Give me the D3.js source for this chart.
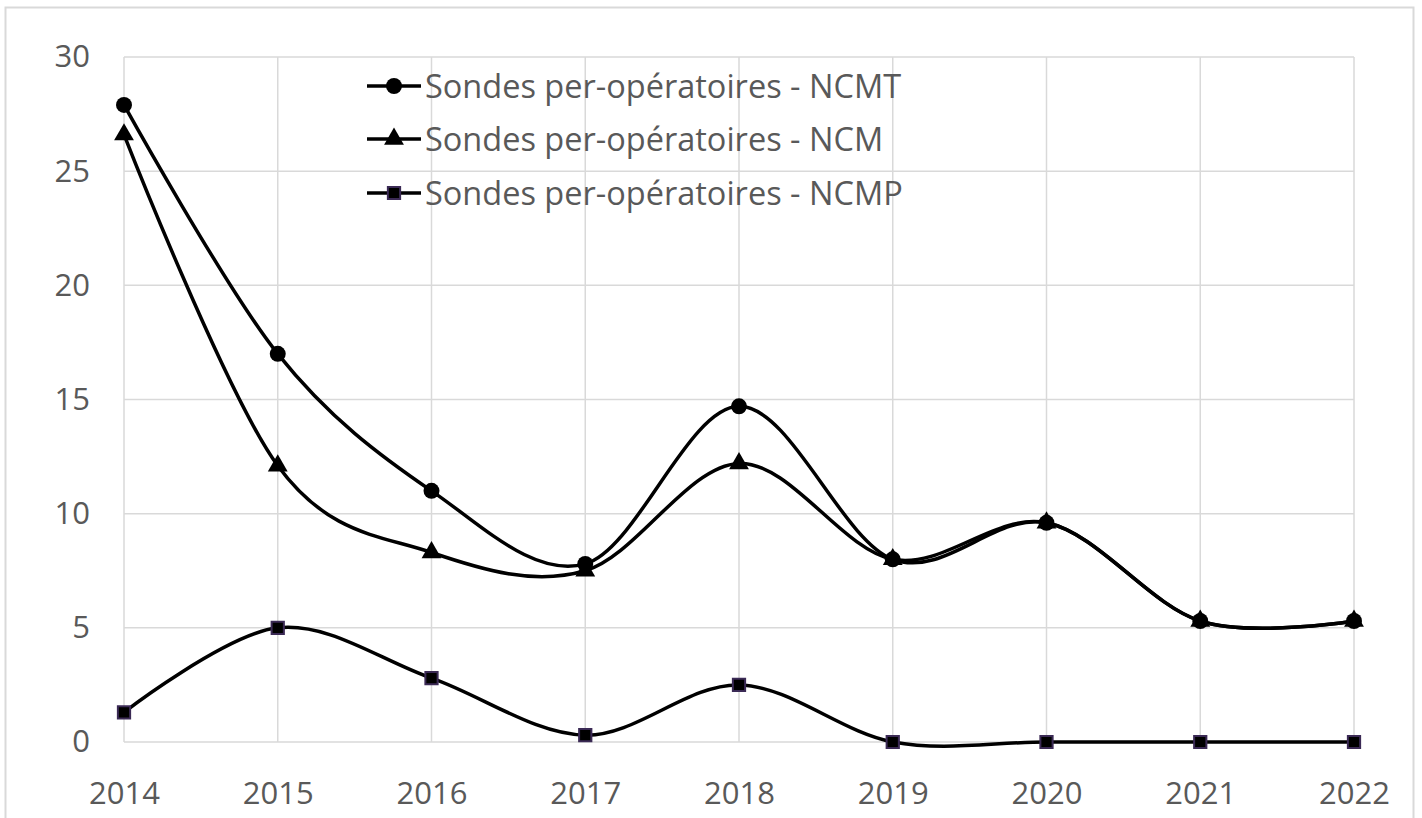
<!DOCTYPE html>
<html><head><meta charset="utf-8">
<script src="https://cdn.jsdelivr.net/npm/d3@7"></script>
<style>body{margin:0;background:#fff}svg{display:block}</style>
</head><body>
<svg id="c" width="1422" height="818"></svg>
<script>
const years = ["2014","2015","2016","2017","2018","2019","2020","2021","2022"];
const ncmt = [27.9, 17.0, 11.0, 7.8, 14.7, 8.0, 9.6, 5.3, 5.3];
const ncm  = [26.6, 12.1, 8.3, 7.5, 12.2, 8.0, 9.6, 5.3, 5.3];
const ncmp = [1.3, 5.0, 2.8, 0.3, 2.5, 0.0, 0.0, 0.0, 0.0];
const yTicks = [0, 5, 10, 15, 20, 25, 30];
const seriesNames = ["Sondes per-opératoires - NCMT","Sondes per-opératoires - NCM","Sondes per-opératoires - NCMP"];

const svg = d3.select("#c");
const font = "'Open Sans', 'Noto Sans', sans-serif";
svg.append("rect").attr("x",5.5).attr("y",7.5).attr("width",1408).attr("height",830)
  .attr("fill","#fff").attr("stroke","#d9d9d9").attr("stroke-width",2);

const x = d3.scalePoint().domain(years).range([124,1354]);
const y = d3.scaleLinear().domain([0,30]).range([742,57]);

const g = svg.append("g");
g.selectAll(".hg").data(yTicks).join("line")
  .attr("x1",124).attr("x2",1354).attr("y1",d=>y(d)).attr("y2",d=>y(d))
  .attr("stroke","#d9d9d9").attr("stroke-width",1.5);
g.selectAll(".vg").data(years).join("line")
  .attr("x1",d=>x(d)).attr("x2",d=>x(d)).attr("y1",57).attr("y2",742)
  .attr("stroke","#d9d9d9").attr("stroke-width",1.5);

const yAxis = d3.axisLeft(y).tickValues(yTicks).tickSize(0).tickPadding(34);
const ya = svg.append("g").attr("transform","translate(124,0)").call(yAxis);
ya.select(".domain").remove();
ya.selectAll("text").attr("font-family",font).attr("font-size",31).attr("fill","#595959");

const xAxis = d3.axisBottom(x).tickSize(0).tickPadding(40);
const xa = svg.append("g").attr("transform","translate(0,742)").call(xAxis);
xa.select(".domain").remove();
xa.selectAll("text").attr("font-family",font).attr("font-size",31).attr("fill","#595959");

const line = d3.line().x((d,i)=>x(years[i])).y(d=>y(d)).curve(d3.curveCardinal.tension(0));

const data = [ncmt, ncm, ncmp];
const shapes = [d3.symbolCircle, d3.symbolTriangle, d3.symbolSquare];
const sizes = [200, 170, 150];

data.forEach((s,k)=>{
  svg.append("path").attr("d",line(s)).attr("fill","none").attr("stroke","#000").attr("stroke-width",3.5);
});
data.forEach((s,k)=>{
  svg.append("g").selectAll("path").data(s).join("path")
    .attr("transform",(d,i)=>`translate(${x(years[i])},${y(d)})`)
    .attr("d",d3.symbol().type(shapes[k]).size(sizes[k]))
    .attr("fill","#000")
    .attr("stroke", k===2 ? "#3b2a55" : "none").attr("stroke-width",2);
});

const leg = svg.append("g");
const legY = [86, 139, 193];
seriesNames.forEach((n,k)=>{
  leg.append("line").attr("x1",367).attr("x2",421).attr("y1",legY[k]).attr("y2",legY[k])
    .attr("stroke","#000").attr("stroke-width",3.5);
  leg.append("path").attr("transform",`translate(394,${legY[k]})`)
    .attr("d",d3.symbol().type(shapes[k]).size(sizes[k]))
    .attr("fill","#000").attr("stroke",k===2?"#3b2a55":"none").attr("stroke-width",2);
  leg.append("text").attr("x",425).attr("y",legY[k]).attr("dy","0.36em")
    .attr("font-family",font).attr("font-size",32.5).attr("fill","#595959").text(n);
});
</script>
</body></html>
